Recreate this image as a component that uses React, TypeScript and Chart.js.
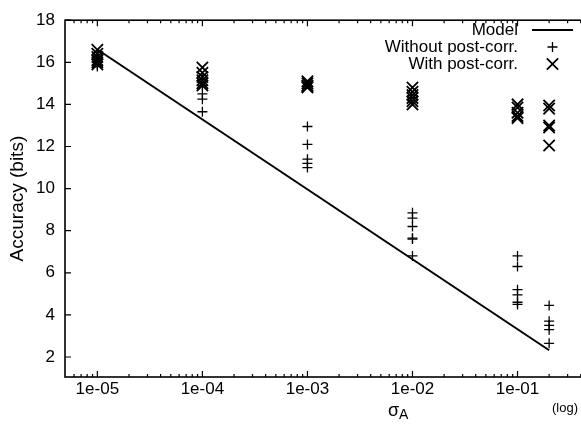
import React, { useEffect, useRef } from "react";
import { Chart, registerables } from "chart.js";

Chart.register(...registerables);

const FONT = '"Liberation Sans", Arial, Helvetica, sans-serif';

// Axis ticks
const xTickValues = [1e-5, 1e-4, 1e-3, 1e-2, 1e-1];
const xTickLabels = ["1e-05", "1e-04", "1e-03", "1e-02", "1e-01"];
const yTickValues = [2, 4, 6, 8, 10, 12, 14, 16, 18];

// sigma_A levels (one column of points per level)
const sigmaLevels = [1e-5, 1e-4, 1e-3, 1e-2, 1e-1, 0.2];

// Model line end points
const modelX = [1e-5, 0.2];
const modelY = [16.61, 2.32];

// Accuracy without post-correction (per sigma level)
const withoutValues = [
  [16.3, 16.15, 16.0, 15.9, 15.8],
  [15.2, 14.9, 14.5, 14.25, 13.65],
  [12.95, 12.1, 11.4, 11.2, 11.0],
  [8.85, 8.6, 8.2, 7.65, 7.6, 6.8],
  [6.8, 6.3, 5.2, 4.95, 4.6, 4.5],
  [4.45, 3.7, 3.5, 3.3, 2.65],
];

// Accuracy with post-correction (per sigma level)
const withValues = [
  [16.6, 16.4, 16.25, 16.1, 16.0, 15.9],
  [15.75, 15.5, 15.3, 15.15, 15.0, 14.9],
  [15.1, 15.0, 14.9, 14.85, 14.8],
  [14.8, 14.6, 14.45, 14.3, 14.15, 14.0],
  [14.0, 13.85, 13.6, 13.45, 13.35],
  [13.95, 13.8, 13.0, 12.9, 12.05],
];

const legendLabels = ["Model", "Without post-corr.", "With post-corr."];

function toPoints(values: number[][]) {
  const pts: { x: number; y: number }[] = [];
  values.forEach((col, i) => col.forEach((v) => pts.push({ x: sigmaLevels[i], y: v })));
  return pts;
}

const framePlugin = {
  id: "gnuFrame",
  afterDraw(chart: any) {
    const { ctx, chartArea: a, scales } = chart;
    const x = scales.x;
    const y = scales.y;
    ctx.save();
    ctx.strokeStyle = "#000";
    ctx.lineWidth = 1.6;
    ctx.strokeRect(a.left, a.top, a.right - a.left, a.bottom - a.top);

    // x ticks (major + log minor), bottom and top, inward
    ctx.lineWidth = 1.2;
    for (let d = -6; d <= 0; d++) {
      for (let m = 1; m <= 9; m++) {
        const v = m * Math.pow(10, d);
        const px = x.getPixelForValue(v);
        if (px < a.left + 1 || px > a.right - 1) continue;
        const len = m === 1 ? 6 : 3;
        ctx.beginPath();
        ctx.moveTo(px, a.bottom);
        ctx.lineTo(px, a.bottom - len);
        ctx.moveTo(px, a.top);
        ctx.lineTo(px, a.top + len);
        ctx.stroke();
      }
    }
    // y ticks inward
    yTickValues.forEach((v) => {
      const py = y.getPixelForValue(v);
      ctx.beginPath();
      ctx.moveTo(a.left, py);
      ctx.lineTo(a.left + 6, py);
      ctx.moveTo(a.right, py);
      ctx.lineTo(a.right - 6, py);
      ctx.stroke();
    });

    // legend (gnuplot style, top right)
    const ds = chart.data.datasets;
    const textRight = 518;
    const sampleL = 532;
    const sampleR = 573;
    const rowY = [30, 47, 64];
    ctx.fillStyle = "#000";
    ctx.font = `17px ${FONT}`;
    ctx.textAlign = "right";
    ctx.textBaseline = "middle";
    legendLabels.forEach((lab, i) => {
      ctx.fillText(lab, textRight, rowY[i]);
    });
    ctx.lineWidth = ds[0].borderWidth;
    ctx.beginPath();
    ctx.moveTo(sampleL, rowY[0]);
    ctx.lineTo(sampleR, rowY[0]);
    ctx.stroke();
    const cx = (sampleL + sampleR) / 2;
    ctx.lineWidth = ds[1].borderWidth;
    ctx.beginPath();
    const r1 = ds[1].pointRadius;
    ctx.moveTo(cx - r1, rowY[1]);
    ctx.lineTo(cx + r1, rowY[1]);
    ctx.moveTo(cx, rowY[1] - r1);
    ctx.lineTo(cx, rowY[1] + r1);
    ctx.stroke();
    ctx.lineWidth = ds[2].borderWidth;
    const r2 = ds[2].pointRadius * Math.SQRT1_2;
    ctx.beginPath();
    ctx.moveTo(cx - r2, rowY[2] - r2);
    ctx.lineTo(cx + r2, rowY[2] + r2);
    ctx.moveTo(cx - r2, rowY[2] + r2);
    ctx.lineTo(cx + r2, rowY[2] - r2);
    ctx.stroke();

    // x-axis title: sigma_A, and "(log)"
    ctx.textAlign = "left";
    ctx.textBaseline = "alphabetic";
    ctx.font = `18px ${FONT}`;
    const tx = 388;
    ctx.fillText("σ", tx, 416);
    const w = ctx.measureText("σ").width;
    ctx.font = `14px ${FONT}`;
    ctx.fillText("A", tx + w, 419);
    ctx.font = `13px ${FONT}`;
    ctx.fillText("(log)", 552, 412);
    ctx.restore();
  },
};

export default function App() {
  const ref = useRef<HTMLCanvasElement | null>(null);
  useEffect(() => {
    if (!ref.current) return;
    const chart = new Chart(ref.current, {
      type: "scatter",
      data: {
        datasets: [
          {
            label: legendLabels[0],
            data: modelX.map((v, i) => ({ x: v, y: modelY[i] })),
            showLine: true,
            borderColor: "#000",
            borderWidth: 2,
            pointRadius: 0,
            fill: false,
          },
          {
            label: legendLabels[1],
            data: toPoints(withoutValues),
            pointStyle: "cross",
            pointRadius: 5,
            borderColor: "#000",
            backgroundColor: "#000",
            borderWidth: 1.3,
          },
          {
            label: legendLabels[2],
            data: toPoints(withValues),
            pointStyle: "crossRot",
            pointRadius: 8,
            borderColor: "#000",
            backgroundColor: "#000",
            borderWidth: 1.8,
          },
        ],
      },
      options: {
        responsive: false,
        animation: false,
        devicePixelRatio: 1,
        layout: { padding: { top: 16, right: 0, left: 0, bottom: 0 } },
        plugins: {
          legend: { display: false },
          tooltip: { enabled: false },
        },
        scales: {
          x: {
            type: "logarithmic",
            min: 4.92e-6,
            max: 0.492,
            grid: { display: false, drawTicks: false },
            border: { display: false },
            afterBuildTicks: (s: any) => {
              s.ticks = xTickValues.map((v) => ({ value: v, major: true }));
            },
            afterFit: (s: any) => {
              s.height = 50;
            },
            ticks: {
              autoSkip: false,
              maxRotation: 0,
              padding: 2,
              color: "#000",
              font: { family: FONT, size: 17 },
              callback: (v: any) => {
                const i = xTickValues.findIndex((t) => Math.abs(t - v) / t < 1e-6);
                return i >= 0 ? xTickLabels[i] : "";
              },
            },
          },
          y: {
            type: "linear",
            min: 1.05,
            max: 18,
            grid: { display: false, drawTicks: false },
            border: { display: false },
            afterBuildTicks: (s: any) => {
              s.ticks = yTickValues.map((v) => ({ value: v }));
            },
            afterFit: (s: any) => {
              s.width = 65;
            },
            title: {
              display: true,
              text: "Accuracy (bits)",
              color: "#000",
              font: { family: FONT, size: 19 },
              padding: { top: 6, bottom: 0 },
            },
            ticks: {
              padding: 10,
              color: "#000",
              font: { family: FONT, size: 17 },
            },
          },
        },
      },
      plugins: [framePlugin],
    });
    return () => chart.destroy();
  }, []);
  return (
    <div
      style={{
        position: "fixed",
        left: 0,
        top: 0,
        width: 581,
        height: 427,
        overflow: "hidden",
        background: "#fff",
      }}
    >
      <canvas ref={ref} width={600} height={427} style={{ display: "block" }} />
    </div>
  );
}
